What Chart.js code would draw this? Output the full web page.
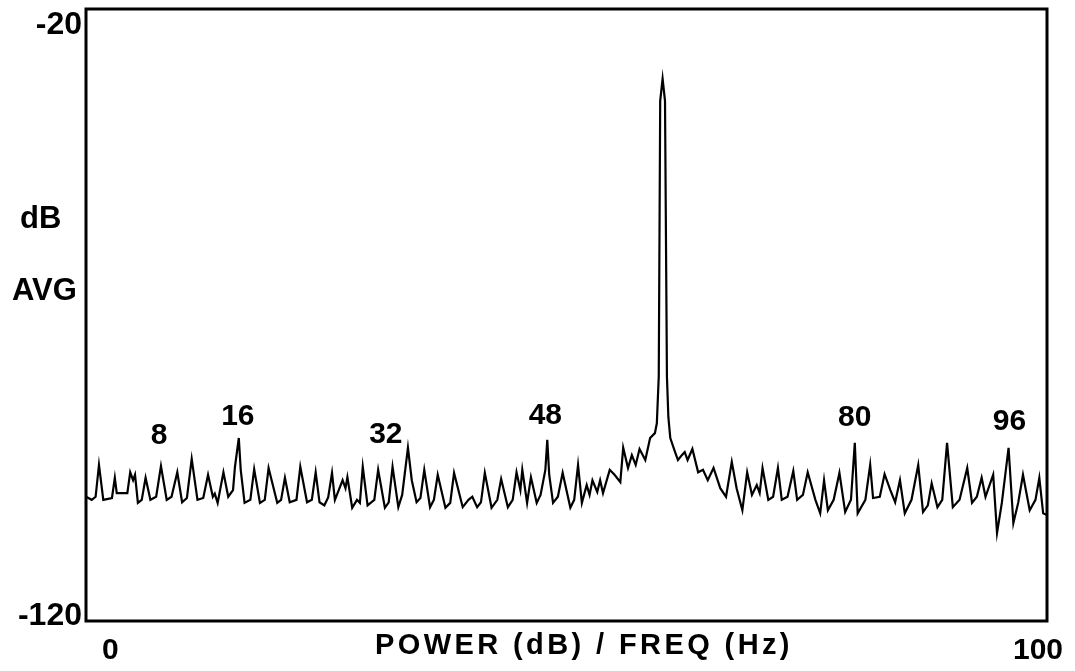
<!DOCTYPE html>
<html>
<head>
<meta charset="utf-8">
<script src="https://cdn.jsdelivr.net/npm/chart.js@4"></script>
<style>
  body { margin: 0; background: #fff; }
</style>
</head>
<body>
<canvas id="spectrum" width="1075" height="671"></canvas>
<script>
// spectrum trace (Hz / dB)
var freqHz = [
  0.0, 0.6, 1.0, 1.35, 1.8, 2.7, 3.0, 3.2, 4.3, 4.6, 4.9, 5.1, 5.4, 5.8, 6.2, 6.7, 7.3, 7.8, 8.4, 8.9,
  9.5, 10.0, 10.5, 11.0, 11.6, 12.2, 12.7, 13.2, 13.4, 13.7, 14.3, 14.8, 15.3, 15.5, 15.9, 16.1, 16.5, 17.1, 17.5, 18.1,
  18.6, 19.0, 19.9, 20.3, 20.7, 21.2, 21.9, 22.3, 23.0, 23.5, 23.9, 24.3, 24.8, 25.2, 25.6, 25.9, 26.3, 26.7, 27.0, 27.2,
  27.7, 28.2, 28.5, 28.8, 29.3, 30.0, 30.4, 31.1, 31.5, 31.9, 32.5, 32.9, 33.5, 33.9, 34.4, 34.8, 35.2, 35.8, 36.2, 36.6,
  37.4, 37.9, 38.3, 39.2, 39.8, 40.2, 40.7, 41.1, 41.5, 42.2, 42.8, 43.2, 43.9, 44.4, 44.8, 45.2, 45.4, 45.9, 46.3, 46.9,
  47.3, 47.8, 48.0, 48.2, 48.6, 49.1, 49.6, 50.4, 50.8, 51.2, 51.6, 52.1, 52.4, 52.7, 53.2, 53.5, 53.8, 54.5, 55.0, 55.6,
  55.9, 56.4, 56.8, 57.2, 57.6, 58.2, 58.7, 59.2, 59.4, 59.6, 59.75, 60.0, 60.25, 60.45, 60.6, 60.8, 61.3, 61.6, 62.0, 62.3,
  62.6, 63.1, 63.7, 64.2, 64.7, 65.3, 66.0, 66.6, 67.2, 67.7, 68.3, 68.8, 69.3, 69.8, 70.1, 70.4, 71.0, 71.5, 72.0, 72.4,
  73.0, 73.6, 74.0, 74.6, 75.1, 75.9, 76.4, 76.8, 77.2, 77.8, 78.4, 79.0, 79.6, 80.0, 80.3, 81.1, 81.6, 81.9, 82.6, 83.1,
  83.7, 84.2, 84.7, 85.2, 85.9, 86.6, 87.1, 87.6, 88.0, 88.6, 89.1, 89.6, 90.2, 90.9, 91.7, 92.2, 92.7, 93.2, 93.6, 94.4,
  94.8, 95.3, 96.0, 96.5, 97.0, 97.5, 98.2, 98.8, 99.2, 99.6, 100.0
];
var powerDb = [
  -99.7, -100.2, -99.7, -94.5, -100.2, -99.9, -96.6, -99.1, -99.1, -95.7, -97.0, -96.1, -100.7, -100.2, -96.6, -100.2, -99.7, -94.7, -100.2, -99.7,
  -95.7, -100.6, -99.9, -93.5, -100.2, -99.9, -96.1, -99.7, -99.2, -100.7, -95.7, -99.7, -98.6, -94.8, -90.1, -95.3, -100.7, -100.2, -95.2, -100.7,
  -100.2, -95.0, -100.7, -100.2, -96.6, -100.6, -100.2, -94.8, -100.6, -100.2, -95.7, -100.6, -101.1, -99.8, -95.8, -100.2, -98.6, -97.0, -98.3, -96.5,
  -101.5, -100.2, -100.7, -94.8, -101.1, -100.2, -95.3, -101.5, -100.6, -94.8, -101.4, -99.4, -91.7, -97.0, -100.6, -99.9, -95.3, -101.4, -100.2, -96.1,
  -101.5, -100.7, -95.8, -101.4, -100.2, -99.7, -101.4, -100.6, -95.8, -101.5, -100.2, -96.8, -101.4, -100.2, -95.7, -98.6, -95.3, -100.7, -96.5, -100.7,
  -99.4, -95.3, -90.4, -96.1, -100.7, -99.7, -95.8, -101.5, -100.2, -94.5, -100.7, -97.8, -99.4, -97.0, -98.9, -97.0, -99.1, -95.3, -96.1, -97.3,
  -91.7, -95.0, -92.9, -94.5, -91.9, -93.7, -90.1, -89.3, -87.7, -80.0, -35.0, -31.4, -35.0, -80.0, -86.7, -90.1, -92.4, -93.7, -92.9, -92.4,
  -93.7, -91.9, -95.7, -95.3, -97.0, -95.0, -98.3, -99.7, -94.0, -98.3, -101.9, -95.7, -99.4, -97.8, -99.1, -95.0, -100.2, -99.7, -95.0, -100.2,
  -99.7, -95.5, -100.2, -99.4, -95.7, -100.2, -102.4, -97.0, -101.9, -100.2, -95.8, -102.2, -100.2, -90.9, -102.4, -100.2, -94.5, -99.9, -99.7, -96.0,
  -98.6, -100.6, -97.0, -102.4, -100.2, -94.5, -102.2, -101.1, -97.5, -101.4, -100.2, -90.9, -101.4, -100.2, -95.0, -100.7, -99.7, -96.6, -99.7, -96.1,
  -105.6, -100.7, -91.7, -104.0, -100.7, -96.1, -101.9, -100.2, -96.6, -102.4, -102.7
];

// harmonic markers written above the trace (label text, anchor in Hz / dB)
var markerText = ["8", "16", "32", "48", "80", "96"];
var markerHz = [7.6, 15.8, 31.2, 47.8, 80.0, 96.1];
var markerDb = [-89.8, -86.7, -89.6, -86.4, -86.8, -87.5];

var yTickValues = [-20, -120];
var xTitle = "POWER (dB) / FREQ (Hz)";

var points = freqHz.map(function (f, i) {
  return { x: f, y: powerDb[i] };
});

var boldFont = function (size) {
  return "bold " + size + "px 'Liberation Sans', Arial, sans-serif";
};

// frame + all the loose text around the plot
var decorations = {
  id: "decorations",
  afterDraw: function (chart) {
    var ctx = chart.ctx;
    var area = chart.chartArea;
    var xs = chart.scales.x;
    var ys = chart.scales.y;

    ctx.save();
    ctx.strokeStyle = "#000";
    ctx.lineWidth = 3;
    ctx.strokeRect(area.left, area.top, area.right - area.left, area.bottom - area.top);

    ctx.fillStyle = "#000";
    ctx.textBaseline = "alphabetic";

    // y end labels
    ctx.font = boldFont(32);
    ctx.textAlign = "right";
    ctx.fillText(String(yTickValues[0]), area.left - 4, ys.getPixelForValue(yTickValues[0]) + 25);
    ctx.fillText(String(yTickValues[1]), area.left - 4, ys.getPixelForValue(yTickValues[1]) + 4);

    // unit text on the left
    ctx.font = boldFont(31);
    ctx.textAlign = "left";
    ctx.fillText("dB", 20, 228);
    ctx.fillText("AVG", 12, 300);

    // harmonic markers
    ctx.font = boldFont(30);
    ctx.textAlign = "center";
    ctx.textBaseline = "middle";
    markerText.forEach(function (t, i) {
      ctx.fillText(t, xs.getPixelForValue(markerHz[i]), ys.getPixelForValue(markerDb[i]));
    });

    // axis title
    ctx.font = boldFont(29);
    ctx.textBaseline = "alphabetic";
    ctx.textAlign = "left";
    ctx.letterSpacing = "3.4px";
    ctx.fillText(xTitle, 375, 654);
    ctx.restore();
  }
};

var myChart = new Chart(document.getElementById("spectrum"), {
  type: "line",
  data: {
    datasets: [
      {
        label: "Power",
        data: points,
        borderColor: "#000",
        borderWidth: 2.2,
        pointRadius: 0,
        tension: 0,
        fill: false
      }
    ]
  },
  options: {
    responsive: false,
    animation: false,
    layout: { padding: { top: 9, right: 28, left: 0, bottom: 0 } },
    plugins: {
      legend: { display: false },
      tooltip: { enabled: false }
    },
    scales: {
      x: {
        type: "linear",
        min: 0,
        max: 100,
        grid: { display: false, drawTicks: false },
        border: { display: false },
        ticks: {
          stepSize: 100,
          align: "inner",
          labelOffset: 16,
          padding: 12,
          maxRotation: 0,
          color: "#000",
          font: { family: "'Liberation Sans', Arial, sans-serif", size: 30, weight: "bold" }
        },
        afterFit: function (s) { s.height = 50; }
      },
      y: {
        min: -120,
        max: -20,
        grid: { display: false, drawTicks: false },
        border: { display: false },
        ticks: { display: false },
        afterFit: function (s) { s.width = 86; }
      }
    }
  },
  plugins: [decorations]
});
</script>
</body>
</html>
